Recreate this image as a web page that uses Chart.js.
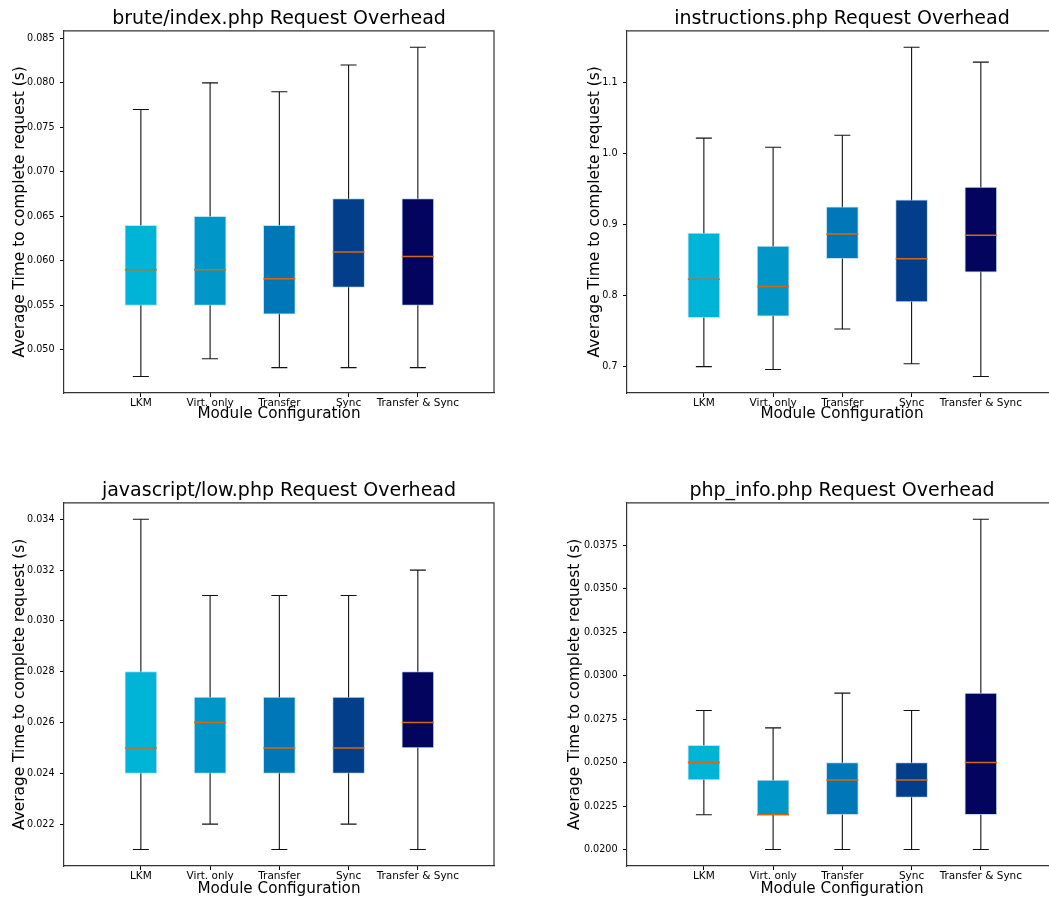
<!DOCTYPE html>
<html>
<head>
<meta charset="utf-8">
<script src="https://cdn.jsdelivr.net/npm/chart.js@4.4.0/dist/chart.umd.min.js"></script>
<style>
  html, body { margin: 0; padding: 0; background: #fff; }
  body { width: 1049px; height: 898px; position: relative; overflow: hidden; }
  canvas { position: absolute; }
</style>
</head>
<body>
<canvas id="brute" width="558" height="440" style="left:0px;top:0px"></canvas>
<canvas id="instructions" width="558" height="440" style="left:563px;top:0px"></canvas>
<canvas id="javascript" width="558" height="441" style="left:0px;top:472px"></canvas>
<canvas id="phpinfo" width="558" height="441" style="left:563px;top:472px"></canvas>
<script>
// module configurations (x categories)
const categories = ['LKM', 'Virt. only', 'Transfer', 'Sync', 'Transfer & Sync'];

// brute/index.php
const bruteMin    = [0.047, 0.049, 0.048, 0.048, 0.048];
const bruteQ1     = [0.055, 0.055, 0.054, 0.057, 0.055];
const bruteMedian = [0.059, 0.059, 0.058, 0.061, 0.0605];
const bruteQ3     = [0.064, 0.065, 0.064, 0.067, 0.067];
const bruteMax    = [0.077, 0.080, 0.079, 0.082, 0.084];
const bruteTicks  = [0.050, 0.055, 0.060, 0.065, 0.070, 0.075, 0.080, 0.085];

// instructions.php
const instrMin    = [0.700, 0.696, 0.753, 0.704, 0.686];
const instrQ1     = [0.769, 0.771, 0.852, 0.791, 0.833];
const instrMedian = [0.823, 0.813, 0.887, 0.852, 0.885];
const instrQ3     = [0.888, 0.870, 0.925, 0.935, 0.953];
const instrMax    = [1.022, 1.009, 1.026, 1.150, 1.129];
const instrTicks  = [0.7, 0.8, 0.9, 1.0, 1.1];

// javascript/low.php
const jsMin    = [0.021, 0.022, 0.021, 0.022, 0.021];
const jsQ1     = [0.024, 0.024, 0.024, 0.024, 0.025];
const jsMedian = [0.025, 0.026, 0.025, 0.025, 0.026];
const jsQ3     = [0.028, 0.027, 0.027, 0.027, 0.028];
const jsMax    = [0.034, 0.031, 0.031, 0.031, 0.032];
const jsTicks  = [0.022, 0.024, 0.026, 0.028, 0.030, 0.032, 0.034];

// php_info.php
const phpMin    = [0.022, 0.020, 0.020, 0.020, 0.020];
const phpQ1     = [0.024, 0.022, 0.022, 0.023, 0.022];
const phpMedian = [0.025, 0.022, 0.024, 0.024, 0.025];
const phpQ3     = [0.026, 0.024, 0.025, 0.025, 0.029];
const phpMax    = [0.028, 0.027, 0.029, 0.028, 0.039];
const phpTicks  = [0.0200, 0.0225, 0.0250, 0.0275, 0.0300, 0.0325, 0.0350, 0.0375];

const boxColors = ['#00b4d8', '#0096c7', '#0077b6', '#023e8a', '#03045e'];
const medianColor = '#d8680f';

Chart.defaults.font.family = "'DejaVu Sans', sans-serif";
Chart.defaults.color = '#000';

// top and right spines
const framePlugin = {
  id: 'frame',
  afterDraw(chart, args, opts) {
    const {ctx, chartArea: a} = chart;
    ctx.save();
    ctx.strokeStyle = '#333';
    ctx.lineWidth = 1.2;
    ctx.beginPath();
    ctx.moveTo(a.left, a.top);
    ctx.lineTo(a.right, a.top);
    if (opts.right !== false) ctx.lineTo(a.right, a.bottom);
    ctx.stroke();
    ctx.restore();
  }
};

function boxChart(id, title, mins, q1, med, q3, maxs, yTicks, decimals, yTitlePad, xTitlePad, rightSpine) {
  const lo = Math.min(...mins), hi = Math.max(...maxs);
  const margin = (hi - lo) * 0.05;

  const whiskers = [];
  categories.forEach((c, i) => {
    whiskers.push({x: i + 1, y: mins[i]}, {x: i + 1, y: maxs[i]}, {x: i + 1, y: null});
  });

  return new Chart(document.getElementById(id), {
    type: 'bar',
    data: {
      datasets: [
        {
          type: 'line',
          data: whiskers,
          borderColor: '#111',
          borderWidth: 1.1,
          spanGaps: false,
          pointStyle: 'line',
          pointRadius: 8,
          pointBorderColor: '#111',
          pointBorderWidth: 1.1,
          order: 3
        },
        {
          type: 'bar',
          data: categories.map((c, i) => ({x: i + 1, y: [q1[i], q3[i]]})),
          backgroundColor: boxColors,
          borderColor: 'rgba(170, 210, 235, 0.7)',
          borderWidth: 1,
          borderSkipped: false,
          barThickness: 32,
          order: 2
        },
        {
          type: 'scatter',
          data: categories.map((c, i) => ({x: i + 1, y: med[i]})),
          pointStyle: 'line',
          pointRadius: 16,
          pointBorderColor: medianColor,
          pointBorderWidth: 1.5,
          order: 1
        }
      ]
    },
    options: {
      responsive: false,
      animation: false,
      devicePixelRatio: 1,
      events: [],
      layout: { padding: 0 },
      plugins: {
        legend: { display: false },
        tooltip: { enabled: false },
        frame: { right: rightSpine },
        title: {
          display: true,
          text: title,
          font: { size: 19, weight: 'normal' },
          color: '#000',
          padding: { top: 8, bottom: 0 }
        }
      },
      scales: {
        x: {
          type: 'linear',
          min: -0.11,
          max: 6.10,
          offset: false,
          afterBuildTicks: s => { s.ticks = categories.map((c, i) => ({value: i + 1})); },
          afterFit: s => { s.height = 47; },
          ticks: {
            callback: v => categories[v - 1],
            font: { size: 10.5 },
            color: '#000',
            padding: 0,
            autoSkip: false,
            maxRotation: 0
          },
          grid: { drawOnChartArea: false, offset: false, tickLength: 4, color: '#000' },
          border: { color: '#333', width: 1.2 },
          title: {
            display: true,
            text: 'Module Configuration',
            font: { size: 15.2 },
            color: '#000',
            padding: { top: 0, bottom: xTitlePad }
          }
        },
        y: {
          type: 'linear',
          min: lo - margin,
          max: hi + margin,
          afterBuildTicks: s => { s.ticks = yTicks.map(v => ({value: v})); },
          afterFit: s => { s.width = 64; },
          ticks: {
            callback: v => v.toFixed(decimals),
            font: { size: 9.6 },
            color: '#000',
            padding: 5.5
          },
          grid: { drawOnChartArea: false, tickLength: 4, color: '#000' },
          border: { color: '#333', width: 1.2 },
          title: {
            display: true,
            text: 'Average Time to complete request (s)',
            font: { size: 15.4 },
            color: '#000',
            padding: { top: yTitlePad, bottom: 0 }
          }
        },
        // empty right-hand axis that only reserves the right margin
        yRight: {
          type: 'linear',
          position: 'right',
          display: true,
          afterFit: s => { s.width = 64; },
          ticks: { display: false },
          grid: { display: false, drawTicks: false },
          border: { display: false }
        }
      }
    },
    plugins: [framePlugin]
  });
}

boxChart('brute', 'brute/index.php Request Overhead',
  bruteMin, bruteQ1, bruteMedian, bruteQ3, bruteMax, bruteTicks, 3, 10.7, 17, true);
boxChart('instructions', 'instructions.php Request Overhead',
  instrMin, instrQ1, instrMedian, instrQ3, instrMax, instrTicks, 1, 23, 17, false);
boxChart('javascript', 'javascript/low.php Request Overhead',
  jsMin, jsQ1, jsMedian, jsQ3, jsMax, jsTicks, 3, 10.3, 15, true);
boxChart('phpinfo', 'php_info.php Request Overhead',
  phpMin, phpQ1, phpMedian, phpQ3, phpMax, phpTicks, 4, 3, 15, false);
</script>
</body>
</html>
